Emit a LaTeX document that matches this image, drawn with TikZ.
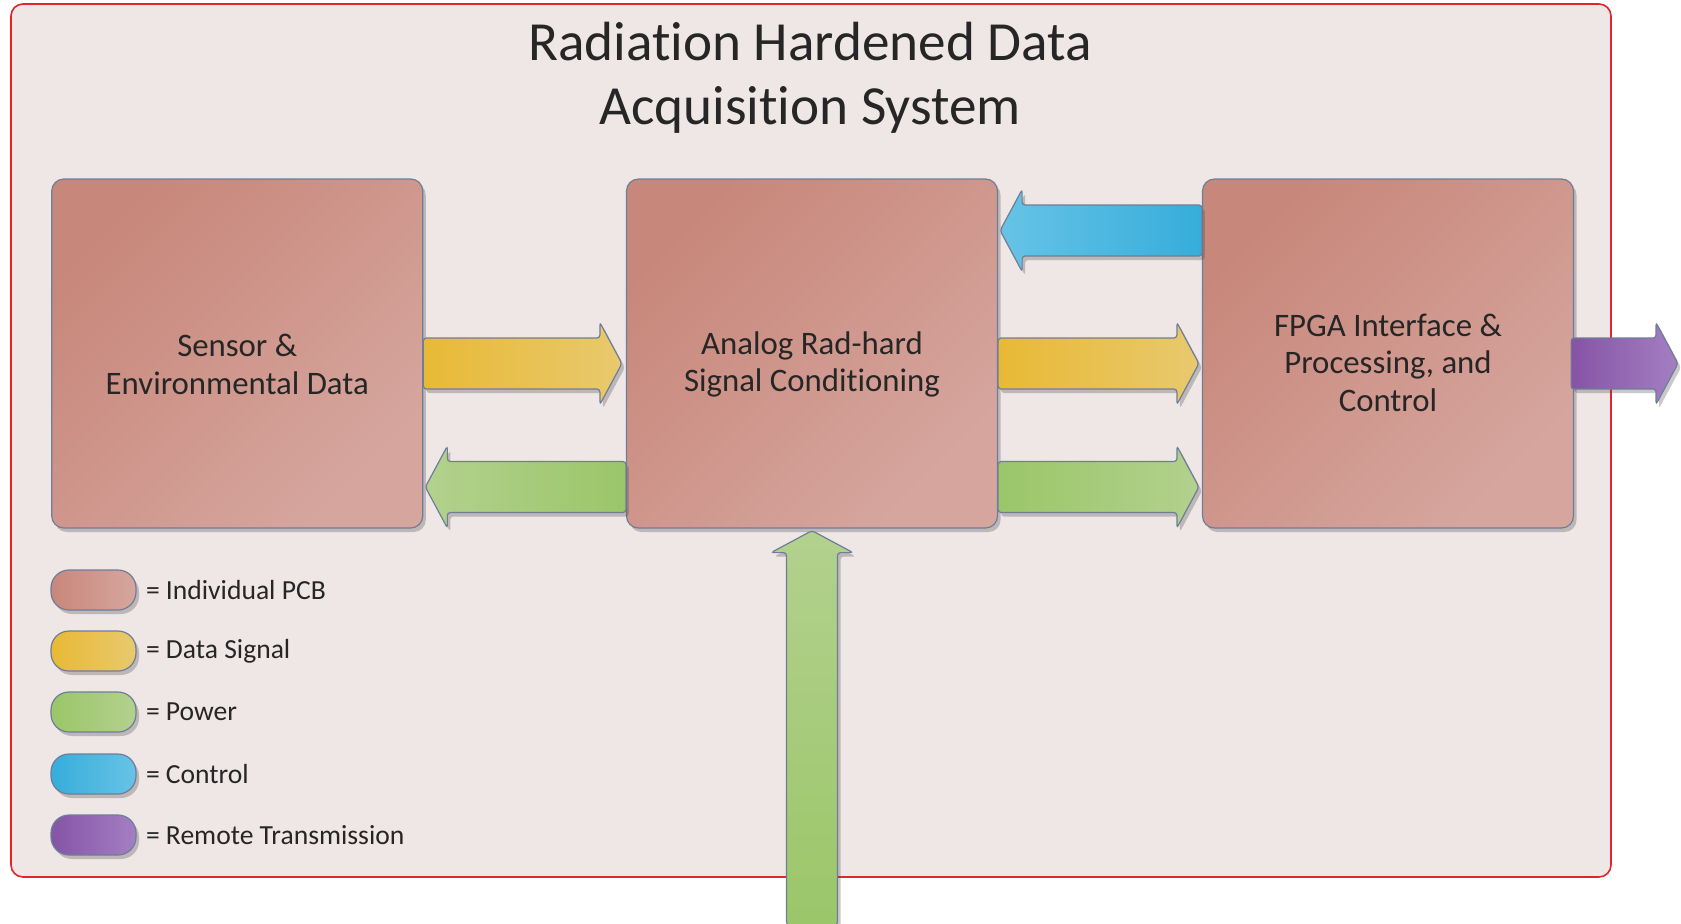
\documentclass[tikz,border=0pt]{standalone}
\usepackage{fontspec}
\setmainfont[Ligatures=NoCommon]{Carlito}
\usetikzlibrary{calc,shadows,positioning}

\definecolor{framered}{HTML}{E2242C}
\definecolor{framebg}{HTML}{EFE6E6}
\definecolor{pcbdark}{HTML}{C8877B}
\definecolor{pcblight}{HTML}{D6A69E}
\definecolor{edgeblue}{HTML}{6F7E98}
\definecolor{datadark}{HTML}{E8B935}
\definecolor{datalight}{HTML}{E8C96E}
\definecolor{powerdark}{HTML}{9BC669}
\definecolor{powerlight}{HTML}{B2D18E}
\definecolor{ctrldark}{HTML}{36ADDB}
\definecolor{ctrllight}{HTML}{67C3E6}
\definecolor{remotedark}{HTML}{8554A5}
\definecolor{remotelight}{HTML}{A47FC3}

\tikzset{
  softshadow/.style={drop shadow={shadow xshift=1.5pt, shadow yshift=-2pt, opacity=.3, fill=black!70}},
  pcb/.style={draw=edgeblue, line width=0.6pt, rounded corners=6pt, top color=pcbdark, bottom color=pcblight, shading angle=45, minimum width=185.5pt, minimum height=174.5pt, softshadow},
  pcblabel/.style={align=center, yshift=-5.5pt, text=black!85, font=\fontsize{16.4}{18.8}\selectfont},
  blockarrow/.style={draw=edgeblue, line width=0.6pt, rounded corners=1.5pt, shading angle=#1, softshadow},
  blockarrow/.default=90,
  datarrow/.style={top color=datadark, bottom color=datalight, blockarrow=#1},
  powerarrow/.style={top color=powerdark, bottom color=powerlight, blockarrow=#1},
  ctrlarrow/.style={top color=ctrldark, bottom color=ctrllight, blockarrow=#1},
  remotearrow/.style={top color=remotedark, bottom color=remotelight, blockarrow=#1},
  key/.style={draw=edgeblue, line width=0.6pt, rounded corners=9pt, minimum width=42.5pt, minimum height=20pt, shading angle=90, softshadow},
  keytext/.style={inner sep=0pt, text=black!85, font=\fontsize{13.8}{16}\selectfont}
}

% block arrow from tail (#2) to tip (#3)
\newcommand{\blockarrow}[3]{%
  \draw[#1] ($(#2)!12.75pt!90:(#3)$)
    -- ($(#3)!11pt!(#2)!12.75pt!90:(#3)$)
    -- ($(#3)!11pt!(#2)!20.5pt!90:(#3)$)
    -- (#3)
    -- ($(#3)!11pt!(#2)!20.5pt!-90:(#3)$)
    -- ($(#3)!11pt!(#2)!12.75pt!-90:(#3)$)
    -- ($(#2)!12.75pt!-90:(#3)$) -- cycle;}

\begin{document}
\begin{tikzpicture}[x=0.5pt, y=-0.5pt]
        \useasboundingbox (0,0) rectangle (1681,923);

        % Draw the frame and the title
        \draw[draw=framered, fill=framebg, line width=0.8pt, rounded corners=6pt] (11,4) rectangle (1611,877);
        \node[align=center, text=black!85, font=\fontsize{27.6}{32}\selectfont] (title) at (810,78) {Radiation Hardened Data\\Acquisition System};

        % Draw the PCB boxes
        \node[pcb, label={[pcblabel]center:{Sensor \&\\Environmental Data}}] (sensor) at (237.25,353.5) {};
        \node[pcb, label={[pcblabel]center:{Analog Rad-hard\\Signal Conditioning}}] (analog) at (812,353.5) {};
        \node[pcb, label={[pcblabel, yshift=1pt]center:{FPGA Interface \&\\Processing, and\\Control}}] (fpga) at (1388,353.5) {};

        % Arrow ends
        \coordinate (data1tail) at ($(sensor.east)+(0,10)$);
        \coordinate (data1tip) at ($(analog.west)+(-4,10)$);
        \coordinate (power1tail) at ($(analog.west)+(0,133.5)$);
        \coordinate (power1tip) at ($(sensor.east)+(2,133.5)$);
        \coordinate (ctrltail) at ($(fpga.west)+(0,-123)$);
        \coordinate (ctrltip) at ($(analog.east)+(2,-123)$);
        \coordinate (data2tail) at ($(analog.east)+(0,10)$);
        \coordinate (data2tip) at ($(fpga.west)+(-3,10)$);
        \coordinate (power2tail) at ($(analog.east)+(0,133.5)$);
        \coordinate (power2tip) at ($(fpga.west)+(-3,133.5)$);
        \coordinate (remotetail) at ($(fpga.east)+(-3,10)$);
        \coordinate (remotetip) at (1678,363.5);
        \coordinate (powerin) at (812,925);
        \coordinate (powerintip) at ($(analog.south)+(0,2)$);

        % Draw the arrows
        \blockarrow{datarrow}{data1tail}{data1tip}
        \blockarrow{powerarrow=-90}{power1tail}{power1tip}
        \blockarrow{ctrlarrow=-90}{ctrltail}{ctrltip}
        \blockarrow{datarrow}{data2tail}{data2tip}
        \blockarrow{powerarrow}{power2tail}{power2tip}
        \blockarrow{remotearrow}{remotetail}{remotetip}
        \blockarrow{powerarrow=180}{powerin}{powerintip}

        % Draw the legend
        \node[key, left color=pcbdark, right color=pcblight] (keypcb) at (93.5,590) {};
        \node[key, left color=datadark, right color=datalight] (keydata) at (93.5,651) {};
        \node[key, left color=powerdark, right color=powerlight] (keypower) at (93.5,712) {};
        \node[key, left color=ctrldark, right color=ctrllight] (keyctrl) at (93.5,774) {};
        \node[key, left color=remotedark, right color=remotelight] (keyremote) at (93.5,835) {};
        \node[keytext, right=4.5pt of keypcb] (keypcbtext) {= Individual PCB};
        \node[keytext, right=4.5pt of keydata] (keydatatext) {= Data Signal};
        \node[keytext, right=4.5pt of keypower] (keypowertext) {= Power};
        \node[keytext, right=4.5pt of keyctrl] (keyctrltext) {= Control};
        \node[keytext, right=4.5pt of keyremote] (keyremotetext) {= Remote Transmission};

    \end{tikzpicture}
\end{document}
